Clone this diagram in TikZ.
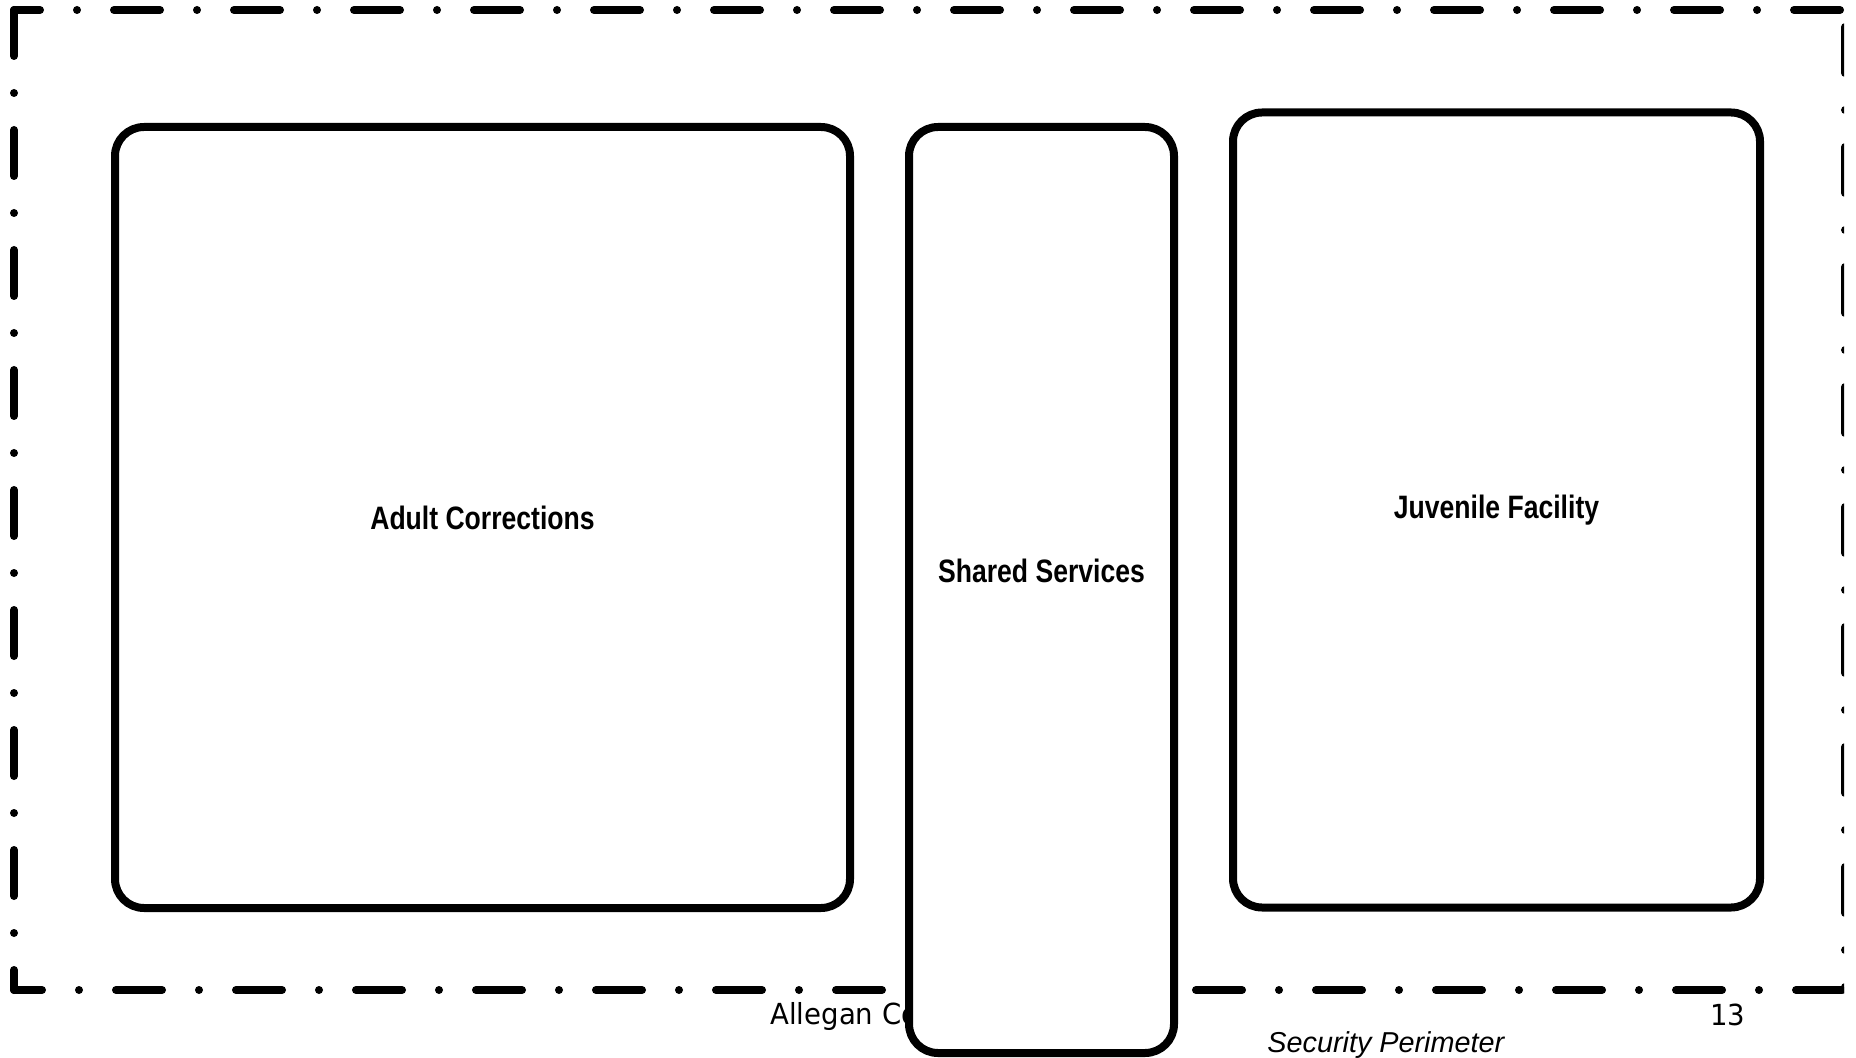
\documentclass[tikz,border=0pt]{standalone}
\usepackage{fontspec}
\setmainfont{Liberation Sans}
\newfontfamily\unitfont[FakeStretch=0.82]{Liberation Sans}
\newfontfamily\footfont[FakeStretch=0.95]{DejaVu Sans}
\usepackage{tikz}
\usetikzlibrary{positioning}

\begin{document}
\begin{tikzpicture}[line cap=round,line join=round,x=0.5pt,y=-0.5pt,
    perimeter/.style={line width=4pt, dash pattern=on 23pt off 18.5pt on 0pt off 18.5pt},
    unit/.style={draw, fill=white, line width=4pt, rounded corners=14.5pt, inner sep=0pt,
        font=\unitfont\bfseries\fontsize{16.2pt}{19pt}\selectfont},
    foot/.style={inner sep=0pt, anchor=base west}]
                    \useasboundingbox (0,0) rectangle (1856,1058);

                    \coordinate (tl) at (14,10);
                    \coordinate (tr) at (1845,10);
                    \coordinate (bl) at (14,990);
                    \coordinate (br) at (1845,990);

                    \begin{scope}
                    \clip (0,0) rectangle (1844,1058);
                    \draw [perimeter, dash phase=10pt] (tl) -- (tr);
                    \draw [perimeter] (tl) -- (bl);
                    \draw [perimeter, dash phase=9pt] (bl) -- (br);
                    \draw [perimeter, dash phase=51.5pt] (tr) -- (br);
                    \end{scope}

                    \node [foot, font=\footfont\fontsize{14.5pt}{16pt}\selectfont] (county) at (770,1024) {Allegan Co};
                    \node [foot, font=\footfont\fontsize{14.5pt}{16pt}\selectfont] (page) at (1710,1025) {13};
                    \node [foot, font=\itshape\fontsize{14.4pt}{16pt}\selectfont] (perim) at (1267,1052) {Security Perimeter};

                    \node [unit, minimum width=367.5pt, minimum height=390.5pt] (adult) at (482.5,517.5) {Adult Corrections};
                    \node [unit, minimum width=132.5pt, minimum height=463pt] (shared) at (1041.5,590) {};
                    \node [unit, minimum width=263.5pt, minimum height=397.5pt] (juvenile) at (1496.5,510) {Juvenile Facility};

                    \node [font=\unitfont\bfseries\fontsize{16.2pt}{19pt}\selectfont] (sharedtxt) at ([yshift=9.5pt]shared.center) {Shared Services};
                \end{tikzpicture}
\end{document}
